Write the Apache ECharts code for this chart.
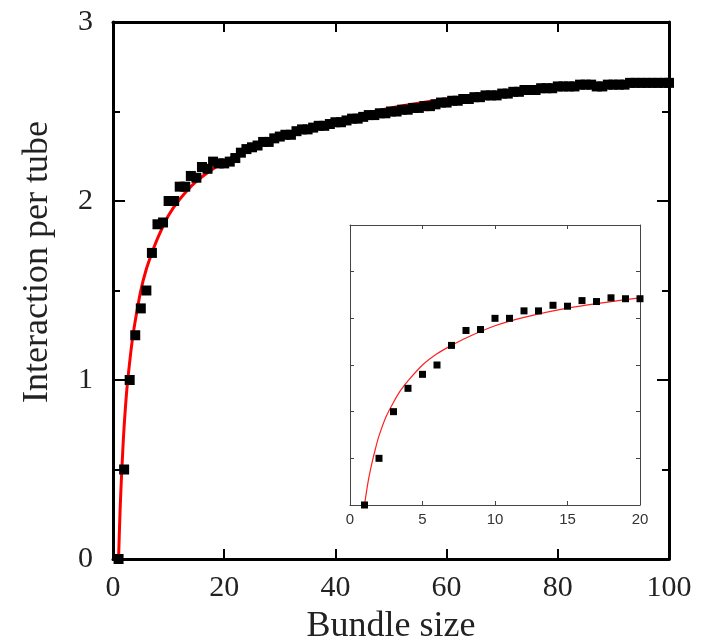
<!DOCTYPE html>
<html>
<head>
<meta charset="utf-8">
<script src="https://cdn.jsdelivr.net/npm/echarts@6/dist/echarts.min.js"></script>
<style>html,body{margin:0;padding:0;background:#fff}#c{width:703px;height:644px}</style>
</head>
<body>
<div id="c"></div>
<script>
// Bundle sizes 1..100 and measured interaction per tube
const bundleSize = [1,2,3,4,5,6,7,8,9,10,11,12,13,14,15,16,17,18,19,20,21,22,23,24,25,26,27,28,29,30,31,32,33,34,35,36,37,38,39,40,41,42,43,44,45,46,47,48,49,50,51,52,53,54,55,56,57,58,59,60,61,62,63,64,65,66,67,68,69,70,71,72,73,74,75,76,77,78,79,80,81,82,83,84,85,86,87,88,89,90,91,92,93,94,95,96,97,98,99,100];
const interaction = [0,0.5,1.0,1.25,1.4,1.5,1.71,1.87,1.88,2.0,2.0,2.08,2.08,2.14,2.13,2.19,2.18,2.22,2.21,2.21,
  2.22,2.24,2.27,2.29,2.30,2.31,2.33,2.33,2.35,2.36,2.37,2.37,2.39,2.40,2.40,2.41,2.42,2.42,2.43,2.44,
  2.44,2.45,2.46,2.46,2.47,2.48,2.48,2.49,2.49,2.50,2.50,2.51,2.51,2.52,2.52,2.53,2.53,2.54,2.55,2.55,
  2.56,2.56,2.57,2.57,2.58,2.58,2.59,2.59,2.59,2.60,2.60,2.61,2.61,2.62,2.62,2.62,2.63,2.63,2.63,2.64,
  2.64,2.64,2.64,2.65,2.65,2.65,2.64,2.64,2.65,2.65,2.65,2.65,2.66,2.66,2.66,2.66,2.66,2.66,2.66,2.66];
// Fitted curve (red)
const fitX = [1,1.25,1.5,1.75,2,2.5,3,3.5,4,5,6,7,8,10,12,15,20,25,30,40,50,60,70,80,90,100];
const fitY = [0,0.25,0.44,0.6,0.74,0.95,1.1,1.23,1.33,1.5,1.62,1.71,1.79,1.92,2.01,2.11,2.22,2.30,2.36,2.45,2.52,2.57,2.61,2.64,2.66,2.68];
// Tick labels
const mainXTicks = [0,20,40,60,80,100];
const mainYTicks = [0,1,2,3];
const insetXTicks = [0,5,10,15,20];
const insetMaxX = 20;

const pts = bundleSize.map((x,i)=>[x, interaction[i]]);
const fitPts = fitX.map((x,i)=>[x, fitY[i]]);
const insetPts = pts.filter(p=>p[0]<=insetMaxX);
const insetFit = fitPts.filter(p=>p[0]<=insetMaxX);

const serif = '"Liberation Serif","Times New Roman",serif';
const sans = '"Liberation Sans",Arial,sans-serif';
const blk = '#000';

function mainX(pos, labels){
  return {type:'value', gridIndex:0, position:pos, min:mainXTicks[0], max:mainXTicks[mainXTicks.length-1], interval:20,
    axisLine:{show:true, onZero:false, lineStyle:{color:blk, width:3}},
    axisTick:{show:true, inside:true, length:10, lineStyle:{color:blk, width:2}},
    axisLabel:{show:labels, color:'#222', fontFamily:serif, fontSize:30, margin:14},
    splitLine:{show:false}};
}
function mainY(pos, labels){
  return {type:'value', gridIndex:0, position:pos, min:mainYTicks[0], max:mainYTicks[mainYTicks.length-1], interval:1,
    axisLine:{show:true, onZero:false, lineStyle:{color:blk, width:3}},
    axisTick:{show:true, inside:true, length:12, lineStyle:{color:blk, width:2}},
    minorTick:{show:true, splitNumber:2, length:7, lineStyle:{color:blk, width:2}},
    axisLabel:{show:labels, color:'#222', fontFamily:serif, fontSize:30, margin:20},
    splitLine:{show:false}, minorSplitLine:{show:false}};
}
function insX(pos, labels){
  return {type:'value', gridIndex:1, position:pos, min:insetXTicks[0], max:insetMaxX, interval:5,
    axisLine:{show:true, onZero:false, lineStyle:{color:'#444', width:1}},
    axisTick:{show:true, inside:true, length:4, lineStyle:{color:'#444', width:1}},
    axisLabel:{show:labels, color:'#333', fontFamily:sans, fontSize:15, margin:7},
    splitLine:{show:false}};
}
function insY(pos){
  return {type:'value', gridIndex:1, position:pos, min:0, max:3, interval:0.5,
    axisLine:{show:true, onZero:false, lineStyle:{color:'#444', width:1}},
    axisTick:{show:true, inside:true, length:4, lineStyle:{color:'#444', width:1}},
    axisLabel:{show:false}, splitLine:{show:false}};
}

const xb = mainX('bottom', true);
xb.name = 'Bundle size'; xb.nameLocation = 'middle'; xb.nameGap = 50;
xb.nameTextStyle = {fontFamily:serif, fontSize:36, color:'#222'};

const chart = echarts.init(document.getElementById('c'), null, {renderer:'canvas'});
chart.setOption({
  animation:false,
  backgroundColor:'#fff',
  grid:[
    {left:113, right:34, top:22, bottom:85, containLabel:false, outerBoundsMode:'none'},
    {left:350, right:63, top:225, bottom:139, containLabel:false, outerBoundsMode:'none', show:true, backgroundColor:'#fff', borderWidth:0}
  ],
  xAxis:[xb, mainX('top', false), insX('bottom', true), insX('top', false)],
  yAxis:[mainY('left', true), mainY('right', false), insY('left'), insY('right')],
  graphic:[{type:'text', x:38, y:262, rotation:Math.PI/2,
    style:{text:'Interaction per tube', font:'36px '+serif, fill:'#222', align:'center', verticalAlign:'middle'}}],
  series:[
    {type:'line', xAxisIndex:0, yAxisIndex:0, data:fitPts, showSymbol:false, smooth:0.3,
      lineStyle:{color:'#ff0000', width:3}, z:2},
    {type:'scatter', xAxisIndex:0, yAxisIndex:0, data:pts, symbol:'rect', symbolSize:10,
      itemStyle:{color:'#000', opacity:1}, z:3},
    {type:'line', xAxisIndex:2, yAxisIndex:2, data:insetFit, showSymbol:false, smooth:0.3,
      lineStyle:{color:'#ff2020', width:1.2}, z:4},
    {type:'scatter', xAxisIndex:2, yAxisIndex:2, data:insetPts, symbol:'rect', symbolSize:7,
      itemStyle:{color:'#000', opacity:1}, z:5}
  ]
});
</script>
</body>
</html>
